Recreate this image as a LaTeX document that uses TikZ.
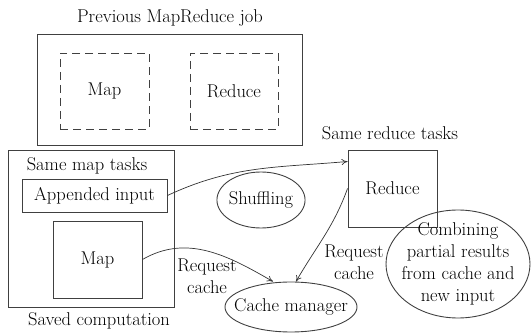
\documentclass[tikz,border=0pt]{standalone}
\usetikzlibrary{arrows.meta,shapes.geometric}

\begin{document}
\begin{tikzpicture}[x=1pt, y=-1pt, >={To[length=6pt,width=6pt]},
  font=\rmfamily\fontsize{18.5}{22}\selectfont,
  box/.style={draw=black!75, line width=0.9pt, inner sep=0pt},
  dashbox/.style={box, dash pattern=on 8pt off 5pt},
  ell/.style={draw=black!75, line width=0.9pt, ellipse, inner sep=0pt},
  link/.style={->, draw=black!80, line width=0.7pt}]
  \useasboundingbox (0,0) rectangle (531,334);

  % previous job
  \node (prevlabel) at (170,18) {Previous MapReduce job};
  \node[box, minimum width=265pt, minimum height=111pt] (prevjob) at (169.5,89.5) {};
  \node[dashbox, minimum width=89pt, minimum height=76pt] (prevmap) at (104.5,91) {Map};
  \node[dashbox, minimum width=88pt, minimum height=76pt] (prevreduce) at (234,91) {Reduce};

  % saved computation
  \node[box, minimum width=166pt, minimum height=157pt] (saved) at (91,228.5) {};
  \node (maplabel) at (87,166) {Same map tasks};
  \node (savedlabel) at (99,321) {Saved computation};
  \node[box, minimum width=145pt, minimum height=33pt] (appended) at (94.5,195.5) {Appended input};
  \node[box, minimum width=89pt, minimum height=77pt] (map) at (97.5,259.5) {Map};

  % reduce side
  \node (reducelabel) at (390,133) {Same reduce tasks};
  \node[box, minimum width=89pt, minimum height=77pt] (reduce) at (392.5,188.5) {Reduce};
  \node[ell, inner xsep=-1pt, minimum width=86pt, minimum height=56pt] (shuffle) at (261,200) {Shuffling};
  \node[ell, inner xsep=-10.5pt, minimum width=132pt, minimum height=50pt] (cache) at (291,307) {Cache manager};
  \node[ell, align=center, inner xsep=-9pt, inner ysep=-6pt, minimum width=144pt, minimum height=108pt] (combine) at (458,264)
    {Combining\\partial results\\from cache and\\new input};

  % requests
  \node[align=center] (req1) at (207,276) {Request\\cache};
  \node[align=center] (req2) at (354,262) {Request\\cache};

  \draw[link] (appended.east) to[out=25, in=185] ([yshift=27pt]reduce.west);
  \draw[link] (map.east) to[out=30, in=150] ([xshift=-18pt]cache.north);
  \draw[link] (reduce.west) to[out=250, in=60] ([xshift=5pt]cache.north);
\end{tikzpicture}
\end{document}
